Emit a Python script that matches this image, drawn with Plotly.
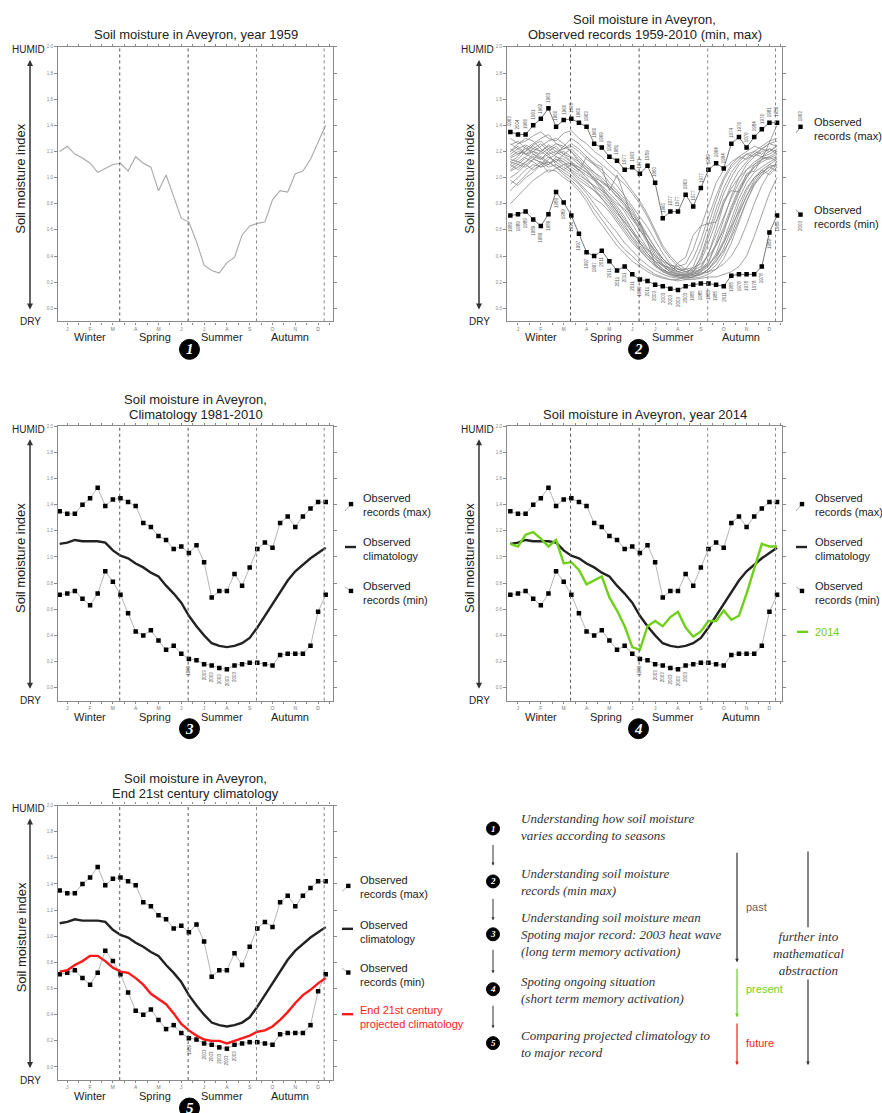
import plotly.graph_objects as go

W, H = 882, 1113

# ---------------- data ----------------
dekad = list(range(36))
month_ticks = [1, 4, 7, 10, 13, 16, 19, 22, 25, 28, 31, 34]
month_labels = ["J", "F", "M", "A", "M", "J", "J", "A", "S", "O", "N", "D"]
month_bounds = [2.5, 5.5, 8.5, 11.5, 14.5, 17.5, 20.5, 23.5, 26.5, 29.5, 32.5, 35.5]
seasons = ["Winter", "Spring", "Summer", "Autumn"]
season_pos = [4.0, 12.5, 21.4, 30.3]
season_bounds = [7.9, 16.9, 25.9, 34.8]
y_ticks = [0.0, 0.2, 0.4, 0.6, 0.8, 1.0, 1.2, 1.4, 1.6, 1.8, 2.0]

year_1959 = [1.20, 1.24, 1.18, 1.15, 1.11, 1.04, 1.07, 1.10, 1.11, 1.05, 1.16, 1.11,
             1.08, 0.90, 1.02, 0.86, 0.69, 0.66, 0.51, 0.33, 0.29, 0.27, 0.35, 0.39,
             0.56, 0.63, 0.65, 0.66, 0.83, 0.90, 0.89, 1.03, 1.05, 1.14, 1.27, 1.40]

rec_max = [1.35, 1.33, 1.33, 1.40, 1.45, 1.53, 1.39, 1.44, 1.45, 1.42, 1.39, 1.26,
           1.23, 1.16, 1.13, 1.06, 1.08, 1.03, 1.09, 0.96, 0.69, 0.74, 0.74, 0.87,
           0.78, 0.92, 1.06, 1.11, 1.07, 1.26, 1.31, 1.23, 1.31, 1.37, 1.42, 1.42]
rec_min = [0.71, 0.72, 0.74, 0.68, 0.63, 0.72, 0.89, 0.81, 0.71, 0.57, 0.43, 0.40,
           0.44, 0.36, 0.29, 0.32, 0.26, 0.22, 0.21, 0.18, 0.17, 0.15, 0.14, 0.17,
           0.18, 0.19, 0.19, 0.18, 0.17, 0.25, 0.26, 0.26, 0.26, 0.32, 0.58, 0.71]
rec_max_years = ["1963", "2004", "1966", "1961", "1962", "1963", "1960", "1960", "1963",
                 "1960", "1963", "1960", "1969", "1969", "1981", "1977", "1963", "1971",
                 "1959", "1960", "1960", "1977", "1977", "1963", "1977", "1977", "1959",
                 "1964", "1994", "1974", "1976", "1976", "1984", "1976", "1981", "1959"]
rec_min_years = ["1989", "1989", "1989", "1989", "1989", "1989", "1989", "1989", "1990",
                 "1997", "1997", "1997", "2011", "2011", "2011", "2011", "2011", "1989",
                 "2011", "2003", "2003", "2003", "2003", "2003", "1985", "1985", "1985",
                 "1985", "2011", "1985", "1978", "1978", "1978", "1978", "1989", "1989"]
labelled_min_idx = [17, 19, 20, 21, 22, 23]

clim_obs = [1.10, 1.11, 1.13, 1.12, 1.12, 1.12, 1.11, 1.05, 1.01, 0.99, 0.95, 0.92,
            0.88, 0.85, 0.78, 0.72, 0.65, 0.55, 0.47, 0.40, 0.34, 0.32, 0.31, 0.32,
            0.34, 0.38, 0.46, 0.55, 0.64, 0.73, 0.82, 0.89, 0.94, 0.99, 1.03, 1.07]
year_2014 = [1.10, 1.08, 1.17, 1.19, 1.14, 1.08, 1.13, 0.95, 0.96, 0.90, 0.79, 0.82,
             0.85, 0.69, 0.59, 0.47, 0.31, 0.29, 0.47, 0.51, 0.47, 0.54, 0.58, 0.46,
             0.39, 0.43, 0.51, 0.51, 0.59, 0.52, 0.55, 0.72, 0.92, 1.10, 1.08, 1.08]
clim_future = [0.73, 0.74, 0.78, 0.81, 0.85, 0.85, 0.81, 0.76, 0.73, 0.72, 0.68, 0.63,
               0.56, 0.52, 0.48, 0.41, 0.33, 0.28, 0.24, 0.21, 0.20, 0.20, 0.18, 0.20,
               0.22, 0.24, 0.27, 0.28, 0.31, 0.36, 0.42, 0.49, 0.55, 0.59, 0.64, 0.68]

# individual years 1959-2010 (a readable subset of the bundle)
yr_a = [1.15, 1.18, 1.22, 1.20, 1.16, 1.12, 1.08, 1.02, 0.98, 0.92, 0.85, 0.76, 0.68, 0.60, 0.52, 0.45, 0.40, 0.34,
        0.30, 0.26, 0.24, 0.22, 0.21, 0.22, 0.24, 0.28, 0.35, 0.48, 0.62, 0.78, 0.92, 1.02, 1.08, 1.12, 1.15, 1.18]
yr_b = [1.10, 1.14, 1.20, 1.25, 1.28, 1.22, 1.18, 1.24, 1.30, 1.26, 1.20, 1.15, 1.10, 1.05, 1.00, 0.95, 0.88, 0.80,
        0.70, 0.58, 0.46, 0.38, 0.32, 0.28, 0.26, 0.30, 0.42, 0.60, 0.80, 0.95, 1.05, 1.12, 1.18, 1.22, 1.20, 1.25]
yr_c = [1.05, 1.08, 1.12, 1.18, 1.15, 1.10, 1.14, 1.12, 1.05, 1.00, 0.96, 0.90, 0.86, 0.80, 0.72, 0.66, 0.58, 0.50,
        0.42, 0.36, 0.30, 0.27, 0.25, 0.24, 0.23, 0.24, 0.26, 0.30, 0.38, 0.50, 0.66, 0.82, 0.95, 1.02, 1.10, 1.14]
yr_d = [1.18, 1.22, 1.25, 1.22, 1.20, 1.25, 1.22, 1.18, 1.15, 1.10, 1.06, 1.00, 0.93, 0.85, 0.78, 0.70, 0.60, 0.50,
        0.42, 0.35, 0.30, 0.26, 0.24, 0.22, 0.22, 0.23, 0.24, 0.24, 0.26, 0.28, 0.32, 0.40, 0.55, 0.72, 0.88, 1.00]
yr_e = [0.80, 0.86, 0.92, 0.98, 1.02, 1.06, 1.05, 1.00, 0.96, 0.90, 0.82, 0.72, 0.64, 0.56, 0.48, 0.42, 0.36, 0.32,
        0.28, 0.25, 0.23, 0.22, 0.22, 0.24, 0.28, 0.36, 0.50, 0.66, 0.80, 0.92, 1.00, 1.06, 1.10, 1.14, 1.16, 1.12]
yr_f = [1.25, 1.28, 1.22, 1.26, 1.30, 1.33, 1.26, 1.22, 1.24, 1.20, 1.14, 1.10, 1.06, 1.00, 0.94, 0.86, 0.78, 0.70,
        0.62, 0.52, 0.42, 0.34, 0.30, 0.28, 0.30, 0.38, 0.55, 0.72, 0.88, 1.00, 1.10, 1.15, 1.20, 1.24, 1.28, 1.30]
yr_g = [1.12, 1.10, 1.15, 1.12, 1.08, 1.10, 1.16, 1.14, 1.10, 1.06, 1.02, 0.98, 0.94, 0.88, 0.82, 0.74, 0.64, 0.55,
        0.46, 0.38, 0.32, 0.28, 0.26, 0.26, 0.27, 0.30, 0.34, 0.40, 0.52, 0.68, 0.84, 0.96, 1.04, 1.08, 1.12, 1.15]
yr_h = [0.95, 1.00, 1.06, 1.10, 1.08, 1.14, 1.18, 1.20, 1.16, 1.12, 1.08, 1.02, 0.96, 0.92, 0.86, 0.80, 0.72, 0.64,
        0.55, 0.46, 0.38, 0.32, 0.28, 0.26, 0.25, 0.26, 0.30, 0.36, 0.46, 0.60, 0.76, 0.90, 1.00, 1.06, 1.10, 1.08]
yr_i = [1.22, 1.18, 1.20, 1.24, 1.20, 1.16, 1.12, 1.18, 1.22, 1.16, 1.10, 1.04, 0.98, 0.92, 0.85, 0.78, 0.70, 0.62,
        0.52, 0.44, 0.36, 0.30, 0.27, 0.25, 0.28, 0.40, 0.58, 0.76, 0.92, 1.04, 1.12, 1.18, 1.16, 1.20, 1.22, 1.18]
yr_j = [1.08, 1.12, 1.10, 1.06, 1.10, 1.16, 1.12, 1.08, 1.04, 0.98, 0.94, 0.90, 0.84, 0.78, 0.70, 0.62, 0.55, 0.48,
        0.40, 0.34, 0.28, 0.25, 0.24, 0.23, 0.24, 0.26, 0.28, 0.33, 0.42, 0.56, 0.72, 0.86, 0.98, 1.06, 1.02, 1.08]
yr_k = [1.30, 1.26, 1.28, 1.32, 1.35, 1.30, 1.28, 1.34, 1.36, 1.30, 1.26, 1.20, 1.16, 1.10, 1.05, 0.98, 0.90, 0.82,
        0.72, 0.60, 0.48, 0.40, 0.34, 0.30, 0.28, 0.30, 0.36, 0.50, 0.68, 0.86, 1.00, 1.10, 1.16, 1.22, 1.26, 1.28]
yr_l = [1.00, 1.04, 1.10, 1.14, 1.12, 1.08, 1.10, 1.06, 1.02, 0.96, 0.90, 0.84, 0.80, 0.74, 0.66, 0.58, 0.50, 0.44,
        0.38, 0.33, 0.29, 0.26, 0.25, 0.25, 0.26, 0.27, 0.28, 0.30, 0.34, 0.40, 0.50, 0.64, 0.80, 0.94, 1.04, 1.10]
yr_m = [1.16, 1.20, 1.18, 1.22, 1.26, 1.20, 1.16, 1.12, 1.08, 1.04, 0.98, 0.94, 0.90, 0.86, 0.80, 0.76, 0.68, 0.60,
        0.52, 0.44, 0.38, 0.33, 0.30, 0.28, 0.29, 0.32, 0.42, 0.56, 0.70, 0.84, 0.96, 1.06, 1.12, 1.16, 1.18, 1.22]
yr_n = [1.12, 1.16, 1.24, 1.18, 1.14, 1.20, 1.24, 1.18, 1.12, 1.08, 1.04, 0.99, 0.92, 0.84, 0.76, 0.68, 0.60, 0.52,
        0.45, 0.40, 0.36, 0.33, 0.32, 0.34, 0.45, 0.62, 0.80, 0.96, 1.06, 1.12, 1.16, 1.20, 1.24, 1.22, 1.26, 1.24]
yr_o = [0.98, 0.94, 1.00, 1.04, 1.10, 1.12, 1.08, 1.04, 1.00, 0.95, 0.88, 0.80, 0.72, 0.65, 0.58, 0.50, 0.44, 0.38,
        0.33, 0.29, 0.26, 0.24, 0.23, 0.24, 0.25, 0.26, 0.30, 0.38, 0.50, 0.64, 0.80, 0.92, 1.00, 1.04, 1.08, 1.05]
yr_p = [1.20, 1.26, 1.30, 1.28, 1.22, 1.18, 1.20, 1.16, 1.12, 1.06, 1.00, 0.92, 0.84, 0.76, 0.68, 0.60, 0.52, 0.45,
        0.38, 0.32, 0.28, 0.26, 0.25, 0.26, 0.32, 0.46, 0.64, 0.82, 0.98, 1.08, 1.14, 1.18, 1.20, 1.18, 1.22, 1.20]
yr_q = [1.06, 1.10, 1.08, 1.14, 1.20, 1.24, 1.20, 1.22, 1.26, 1.22, 1.16, 1.10, 1.04, 0.96, 0.90, 0.84, 0.76, 0.66,
        0.56, 0.46, 0.38, 0.32, 0.28, 0.27, 0.27, 0.29, 0.33, 0.40, 0.50, 0.62, 0.74, 0.86, 0.96, 1.04, 1.08, 1.10]
yr_r = [1.14, 1.12, 1.16, 1.20, 1.18, 1.22, 1.26, 1.24, 1.20, 1.14, 1.08, 1.04, 1.00, 0.94, 0.88, 0.80, 0.70, 0.60,
        0.50, 0.40, 0.33, 0.28, 0.26, 0.25, 0.26, 0.28, 0.32, 0.42, 0.58, 0.76, 0.90, 1.00, 1.08, 1.14, 1.16, 1.20]
yr_s = [0.90, 0.96, 1.02, 1.08, 1.12, 1.10, 1.14, 1.10, 1.06, 1.02, 0.98, 0.93, 0.88, 0.82, 0.74, 0.66, 0.58, 0.50,
        0.44, 0.38, 0.33, 0.30, 0.28, 0.30, 0.38, 0.52, 0.70, 0.86, 1.00, 1.10, 1.16, 1.14, 1.18, 1.16, 1.14, 1.16]
yr_t = [1.26, 1.22, 1.18, 1.20, 1.24, 1.28, 1.30, 1.26, 1.20, 1.12, 1.06, 0.98, 0.90, 0.82, 0.74, 0.64, 0.54, 0.46,
        0.40, 0.36, 0.33, 0.31, 0.30, 0.30, 0.31, 0.34, 0.40, 0.48, 0.60, 0.74, 0.88, 1.00, 1.10, 1.16, 1.20, 1.24]
yr_u = [1.10, 1.06, 1.12, 1.16, 1.14, 1.18, 1.10, 1.06, 1.10, 1.08, 1.04, 1.00, 0.97, 0.93, 0.88, 0.82, 0.74, 0.64,
        0.52, 0.42, 0.34, 0.29, 0.26, 0.24, 0.24, 0.26, 0.30, 0.36, 0.44, 0.54, 0.68, 0.82, 0.94, 1.02, 1.06, 1.12]
observed_years = [year_1959, yr_a, yr_b, yr_c, yr_d, yr_e, yr_f, yr_g, yr_h, yr_i, yr_j, yr_k, yr_l, yr_m,
                  yr_n, yr_o, yr_p, yr_q, yr_r, yr_s, yr_t, yr_u]

# ---------------- layout helpers ----------------
def px(x):
    return x / W


def py(y):
    return 1 - y / H


FONT = "Liberation Sans, Arial, sans-serif"
SERIF = "Liberation Serif, Times New Roman, serif"
GREEN = "#6fd019"
RED = "#ff1a1a"

panels = [
    dict(n=1, left=58, right=333, top=45, bottom=320, xr=[-0.22, 35.96],
         title=["Soil moisture in Aveyron, year 1959"]),
    dict(n=2, left=507, right=782, top=45, bottom=320, xr=[-0.44, 35.65],
         title=["Soil moisture in Aveyron,", "Observed records 1959-2010 (min, max)"]),
    dict(n=3, left=58, right=333, top=425, bottom=700, xr=[-0.22, 35.96],
         title=["Soil moisture in Aveyron,", "Climatology 1981-2010"]),
    dict(n=4, left=507, right=782, top=425, bottom=700, xr=[-0.44, 35.65],
         title=["Soil moisture in Aveyron, year 2014"]),
    dict(n=5, left=58, right=333, top=805, bottom=1080, xr=[-0.22, 35.96],
         title=["Soil moisture in Aveyron,", "End 21st century climatology"]),
]

fig = go.Figure()
annotations = []
shapes = []


def ax_names(n):
    s = "" if n == 1 else str(n)
    return "x" + s, "y" + s, "xaxis" + s, "yaxis" + s


def text(x, y, t, size=11, color="#222", family=FONT, xanchor="center", align="center", angle=0):
    annotations.append(dict(x=px(x), y=py(y), xref="paper", yref="paper", text=t, showarrow=False,
                            xanchor=xanchor, yanchor="middle", align=align, textangle=angle,
                            font=dict(size=size, color=color, family=family)))


def arrow(x, y_from, y_to, color="#333", width=1.2, both=False, size=0.7):
    annotations.append(dict(x=px(x), y=py(y_to), xref="paper", yref="paper", text="",
                            showarrow=True, ax=0, ay=-(y_to - y_from), axref="pixel", ayref="pixel",
                            arrowhead=2, arrowsize=size, arrowwidth=width, arrowcolor=color,
                            arrowside="end+start" if both else "end"))


def seg(x0, y0, x1, y1, color="#333", width=1.0, dash="solid"):
    shapes.append(dict(type="line", xref="paper", yref="paper", x0=px(x0), y0=py(y0), x1=px(x1), y1=py(y1),
                       line=dict(color=color, width=width, dash=dash)))


def square(x, y, s=2.2, color="black"):
    shapes.append(dict(type="rect", xref="paper", yref="paper", x0=px(x - s), x1=px(x + s),
                       y0=py(y + s), y1=py(y - s), fillcolor=color, line=dict(width=0)))


def badge(x, y, r, label, size):
    shapes.append(dict(type="circle", xref="paper", yref="paper", x0=px(x - r), x1=px(x + r),
                       y0=py(y + r), y1=py(y - r), fillcolor="black", line=dict(color="black", width=1)))
    text(x, y, "<b><i>%s</i></b>" % label, size=size, color="white", family=SERIF)


for p in panels:
    n = p["n"]
    xa, ya, xname, yname = ax_names(n)
    fig.update_layout(**{
        xname: dict(domain=[px(p["left"]), px(p["right"])], range=p["xr"], anchor=ya,
                    tickmode="array", tickvals=month_ticks + month_bounds,
                    ticktext=month_labels + [""] * len(month_bounds),
                    ticks="outside", ticklen=2, tickwidth=0.8, tickcolor="#888",
                    tickfont=dict(size=5, color="#777", family=FONT),
                    showline=True, linecolor="#8a8a8a", linewidth=1.3, mirror="allticks",
                    showgrid=False, zeroline=False, fixedrange=True),
        yname: dict(domain=[py(p["bottom"]), py(p["top"])], range=[-0.1, 2.0], anchor=xa,
                    tickmode="array", tickvals=y_ticks, ticktext=["%.1f" % v for v in y_ticks],
                    ticks="outside", ticklen=3, tickwidth=0.8, tickcolor="#888",
                    tickfont=dict(size=4.5, color="#888", family=FONT),
                    showline=True, linecolor="#8a8a8a", linewidth=1.3, mirror="allticks",
                    showgrid=False, zeroline=False, fixedrange=True),
    })
    # season separators
    for k, b in enumerate(season_bounds):
        shapes.append(dict(type="line", xref=xa, yref=ya + " domain", x0=b, x1=b, y0=0, y1=1,
                           line=dict(color="#555" if k < 2 else "#888", width=1, dash="dot")))
    # season names
    for s, xs in zip(seasons, season_pos):
        annotations.append(dict(x=xs, y=py(p["bottom"] + 16), xref=xa, yref="paper", text=s,
                                showarrow=False, yanchor="middle",
                                font=dict(size=11, color="#222", family=FONT)))
    # titles
    cx = (p["left"] + p["right"]) / 2
    if len(p["title"]) == 1:
        text(cx, p["top"] - 12, p["title"][0], size=13)
    else:
        text(cx, p["top"] - 27, p["title"][0], size=13)
        text(cx, p["top"] - 12, p["title"][1], size=13)
    # humid / dry axis
    left = p["left"]
    text(left - 30, p["top"] + 3, "HUMID", size=10, color="#222")
    text(left - 28, p["bottom"], "DRY", size=10, color="#222")
    arrow(left - 28, p["top"] + 12, p["bottom"] - 12, color="#333", width=1.5, both=True, size=0.8)
    text(left - 37, p["top"] + 132, "Soil moisture index", size=13, color="#222", angle=-90)
    # badge
    badge(cx - 6, p["bottom"] + 28, 10, str(n), 15)

    if n == 1:
        fig.add_trace(go.Scatter(x=dekad, y=year_1959, mode="lines", xaxis=xa, yaxis=ya,
                                 line=dict(color="#a8a8a8", width=1.1)))
    elif n == 2:
        for s in observed_years:
            fig.add_trace(go.Scatter(x=dekad, y=s, mode="lines", xaxis=xa, yaxis=ya,
                                     line=dict(color="#8c8c8c", width=0.8)))
        for rec, yrs, sh in ((rec_max, rec_max_years, 11), (rec_min, rec_min_years, -11)):
            fig.add_trace(go.Scatter(x=dekad, y=rec, mode="lines+markers", xaxis=xa, yaxis=ya,
                                     line=dict(color="#555", width=0.8),
                                     marker=dict(symbol="square", size=4.5, color="black")))
            for k in dekad:
                annotations.append(dict(x=k, y=rec[k], xref=xa, yref=ya, text=yrs[k], showarrow=False,
                                        textangle=-90, yshift=sh, font=dict(size=4.5, color="#555", family=FONT)))
    else:
        for rec in (rec_max, rec_min):
            fig.add_trace(go.Scatter(x=dekad, y=rec, mode="lines+markers", xaxis=xa, yaxis=ya,
                                     line=dict(color="#b5b5b5", width=1),
                                     marker=dict(symbol="square", size=4.5, color="black")))
        for k in labelled_min_idx:
            annotations.append(dict(x=k, y=rec_min[k], xref=xa, yref=ya, text=rec_min_years[k],
                                    showarrow=False, textangle=-90, yshift=-11,
                                    font=dict(size=4.5, color="#555", family=FONT)))
        fig.add_trace(go.Scatter(x=dekad, y=clim_obs, mode="lines", xaxis=xa, yaxis=ya,
                                 line=dict(color="#222", width=2.4)))
        if n == 4:
            fig.add_trace(go.Scatter(x=dekad, y=year_2014, mode="lines", xaxis=xa, yaxis=ya,
                                     line=dict(color=GREEN, width=2.4)))
        if n == 5:
            fig.add_trace(go.Scatter(x=dekad, y=clim_future, mode="lines", xaxis=xa, yaxis=ya,
                                     line=dict(color=RED, width=2.4)))

# ---------------- side legends ----------------
# panel 2
seg(796, 131, 800.5, 125.5, color="#666", width=0.8)
square(800.5, 125)
text(800.5, 114, "1963", size=4.5, color="#555", angle=-90)
text(812, 127.5, "Observed<br>records (max)", size=11, xanchor="left", align="left")
seg(796, 208, 800.5, 213, color="#666", width=0.8)
square(800.5, 213)
text(800.5, 224, "2003", size=4.5, color="#555", angle=-90)
text(812, 215, "Observed<br>records (min)", size=11, xanchor="left", align="left")

# panels 3, 4
for (mx, tx, y_max, y_clim, y_min) in ((351, 361, 503, 546, 590), (802, 813, 503, 546, 590)):
    seg(mx - 6, y_max + 7, mx, y_max, color="#999", width=0.8)
    square(mx, y_max)
    text(tx, y_max + 1, "Observed<br>records (max)", size=11, xanchor="left", align="left")
    seg(mx - 6, y_clim, mx + 5, y_clim, color="#222", width=2.4)
    text(tx, y_clim + 2, "Observed<br>climatology", size=11, xanchor="left", align="left")
    seg(mx - 6, y_min - 4, mx, y_min, color="#999", width=0.8)
    square(mx, y_min)
    text(tx, y_min + 2, "Observed<br>records (min)", size=11, xanchor="left", align="left")
seg(797, 631, 808, 631, color=GREEN, width=2.4)
text(813, 631, "2014", size=11, color=GREEN, xanchor="left")

# panel 5
seg(342, 891, 348, 885.5, color="#999", width=0.8)
square(348.3, 885.5)
text(358, 886.5, "Observed<br>records (max)", size=11, xanchor="left", align="left")
seg(342, 928.5, 353, 928.5, color="#222", width=2.4)
text(358, 931.5, "Observed<br>climatology", size=11, xanchor="left", align="left")
seg(342, 968, 348.3, 972.3, color="#999", width=0.8)
square(348.3, 972.3)
text(358, 975, "Observed<br>records (min)", size=11, xanchor="left", align="left")
seg(342, 1014, 353, 1014, color=RED, width=2.4)
text(358, 1017, "End 21st century<br>projected climatology", size=11, color=RED, xanchor="left", align="left")

# ---------------- reading guide (bottom right) ----------------
steps = [
    (828, 826.5, "Understanding how soil moisture<br>varies according to seasons"),
    (881, 881.5, "Understanding soil moisture<br>records (min max)"),
    (934, 934.5, "Understanding soil moisture mean<br>Spoting major record: 2003 heat wave<br>(long term memory activation)"),
    (989, 990, "Spoting ongoing situation<br>(short term memory activation)"),
    (1043, 1044, "Comparing projected climatology to<br>to major record"),
]
for i, (cy, ty, t) in enumerate(steps):
    badge(493, cy, 6.5, str(i + 1), 9)
    text(519, ty, "<i>%s</i>" % t, size=13, color="#333", family=SERIF, xanchor="left", align="left")
for (a, b) in ((843, 865), (897, 920), (948, 973), (1004, 1028)):
    arrow(493, a, b, color="#333", width=1.0, size=0.6)

arrow(737, 851, 962, color="#333", width=1.2, size=0.6)
text(744, 907, "past", size=11, color="#666", xanchor="left")
arrow(737, 967, 1017, color=GREEN, width=1.2, size=0.6)
text(744, 989, "present", size=11, color=GREEN, xanchor="left")
arrow(737, 1022, 1065, color=RED, width=1.2, size=0.6)
text(744, 1043, "future", size=11, color=RED, xanchor="left")

seg(808, 851, 808, 927, color="#333", width=1.2)
text(808, 953, "<i>further into<br>mathematical<br>abstraction</i>", size=13, color="#333", family=SERIF)
arrow(808, 978, 1065, color="#333", width=1.2, size=0.6)

fig.update_layout(width=W, height=H, margin=dict(l=0, r=0, t=0, b=0), showlegend=False,
                  paper_bgcolor="white", plot_bgcolor="white",
                  font=dict(family=FONT, color="#222"),
                  annotations=annotations, shapes=shapes)

fig.write_html("out.html", config={"displayModeBar": False},
               post_script="document.body.style.margin='0';document.body.style.padding='0';")
